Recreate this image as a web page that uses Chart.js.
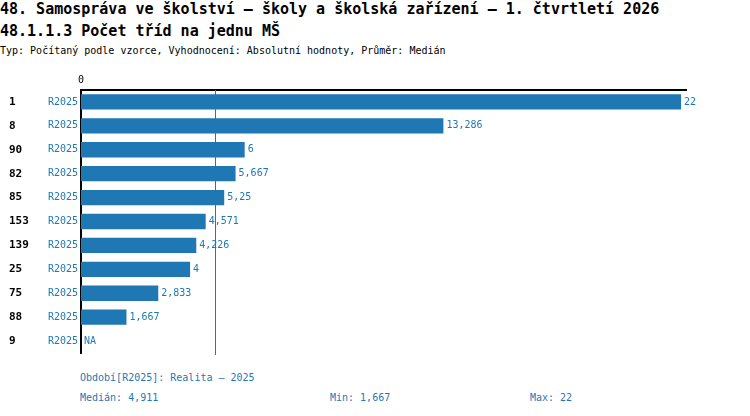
<!DOCTYPE html>
<html>
<head>
<meta charset="utf-8">
<script src="https://cdn.jsdelivr.net/npm/chart.js@4.4.1/dist/chart.umd.min.js"></script>
<style>
  html, body { margin: 0; padding: 0; background: #fff; }
  body { width: 750px; height: 416px; position: relative; overflow: hidden;
         font-family: "DejaVu Sans Mono", monospace; }
  .t { position: absolute; white-space: pre; }
  .title { font-size: 15px; line-height: 18px; left: 0; color: #000; font-weight: bold; }
  .sub { font-size: 10px; line-height: 12px; left: 0; color: #000; }
  .foot { font-size: 10px; line-height: 12px; color: #1f77b4; }
  #wrap { position: absolute; left: 0; top: 70px; width: 750px; height: 292px; }
</style>
</head>
<body>
<div class="t title" style="top:0px">48. Samospráva ve školství – školy a školská zařízení – 1. čtvrtletí 2026</div>
<div class="t title" style="top:22px">48.1.1.3 Počet tříd na jednu MŠ</div>
<div class="t sub" style="top:45px">Typ: Počítaný podle vzorce, Vyhodnocení: Absolutní hodnoty, Průměr: Medián</div>

<div id="wrap"><canvas id="chart"></canvas></div>

<div class="t foot" style="left:80px; top:372px">Období[R2025]: Realita – 2025</div>
<div class="t foot" id="fMed" style="left:80px; top:392px"></div>
<div class="t foot" id="fMin" style="left:330px; top:392px"></div>
<div class="t foot" id="fMax" style="left:530px; top:392px"></div>

<script>
  // data
  const ids = ['1', '8', '90', '82', '85', '153', '139', '25', '75', '88', '9'];
  const periods = ['R2025', 'R2025', 'R2025', 'R2025', 'R2025', 'R2025', 'R2025', 'R2025', 'R2025', 'R2025', 'R2025'];
  const values = [22, 13.286, 6, 5.667, 5.25, 4.571, 4.226, 4, 2.833, 1.667, null];
  const median = 4.911;
  const minValue = 1.667;
  const maxValue = 22;

  const blue = '#1f77b4';
  const fmt = v => String(v).replace('.', ',');

  document.getElementById('fMed').textContent = 'Medián: ' + fmt(median);
  document.getElementById('fMin').textContent = 'Min: ' + fmt(minValue);
  document.getElementById('fMax').textContent = 'Max: ' + fmt(maxValue);

  const rowKeys = ids.map((id, i) => id + '|' + i);

  // median line behind the bars
  const medianLine = {
    id: 'medianLine',
    beforeDatasetsDraw(chart) {
      const { ctx, chartArea } = chart;
      const x = Math.round(chart.scales.x.getPixelForValue(median)) + 0.5;
      ctx.save();
      ctx.strokeStyle = blue;
      ctx.lineWidth = 1;
      ctx.beginPath();
      ctx.moveTo(x, chartArea.top);
      ctx.lineTo(x, chartArea.bottom + 2);
      ctx.stroke();
      ctx.restore();
    }
  };

  // value labels at bar ends
  const valueLabels = {
    id: 'valueLabels',
    afterDatasetsDraw(chart) {
      const { ctx } = chart;
      const meta = chart.getDatasetMeta(0);
      ctx.save();
      ctx.font = '10px "DejaVu Sans Mono"';
      ctx.fillStyle = blue;
      ctx.textBaseline = 'middle';
      ctx.textAlign = 'left';
      values.forEach((v, i) => {
        const y = chart.scales.y.getPixelForValue(i);
        if (v === null) {
          ctx.fillText('NA', chart.scales.x.getPixelForValue(0) + 3, y);
        } else {
          ctx.fillText(fmt(v), meta.data[i].x + 3, y);
        }
      });
      ctx.restore();
    }
  };

  new Chart(document.getElementById('chart'), {
    type: 'bar',
    data: {
      labels: rowKeys,
      datasets: [{
        data: values,
        backgroundColor: blue,
        borderWidth: 0,
        categoryPercentage: 1,
        barPercentage: 0.64
      }]
    },
    options: {
      indexAxis: 'y',
      responsive: true,
      maintainAspectRatio: false,
      animation: false,
      layout: { padding: { left: 9, right: 64, top: 0, bottom: 7 } },
      plugins: {
        legend: { display: false },
        tooltip: { enabled: false }
      },
      scales: {
        x: {
          position: 'top',
          min: 0,
          max: 22.18,
          grid: { display: false, drawTicks: false },
          border: { color: '#000', width: 2 },
          afterBuildTicks: s => { s.ticks = [{ value: 0 }]; },
          afterFit: s => { s.height = 20; },
          ticks: {
            color: '#000',
            padding: 4,
            font: { family: 'DejaVu Sans Mono', size: 10 },
            callback: v => String(v)
          }
        },
        y: {
          position: 'left',
          weight: 0,
          grid: { display: false, drawTicks: false },
          border: { color: '#000', width: 2 },
          afterFit: s => { s.width = 41; },
          ticks: {
            color: blue,
            padding: 3,
            autoSkip: false,
            font: { family: 'DejaVu Sans Mono', size: 10 },
            callback: (v, i) => periods[i]
          }
        },
        y2: {
          type: 'category',
          position: 'left',
          weight: 1,
          labels: ids,
          grid: { display: false, drawTicks: false },
          border: { display: false },
          afterFit: s => { s.width = 31; },
          ticks: {
            color: '#000',
            padding: 0,
            autoSkip: false,
            crossAlign: 'far',
            font: { family: 'DejaVu Sans Mono', size: 11, weight: 'bold' }
          }
        }
      }
    },
    plugins: [medianLine, valueLabels]
  });
</script>
</body>
</html>
